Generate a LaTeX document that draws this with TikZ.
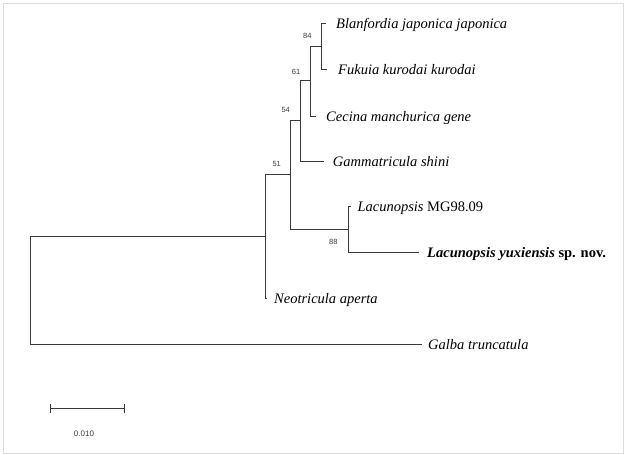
\documentclass[tikz,border=0pt]{standalone}
\usepackage{fontspec}
\setmainfont{Liberation Serif}
\newfontfamily\bsfont{Liberation Sans}
\definecolor{treeline}{HTML}{3A3A3A}
\definecolor{framegray}{HTML}{DCDCD8}
\begin{document}
\begin{tikzpicture}[x=1pt,y=-1pt,
  branch/.style={draw=treeline,line width=1.4pt},
  taxon/.style={anchor=base west,inner sep=0pt,font=\fontsize{14.5}{16}\selectfont\itshape},
  boot/.style={inner sep=0pt,font=\bsfont\fontsize{7.5}{8}\selectfont,text=treeline}]
\useasboundingbox (0,0) rectangle (624,455);
\draw[framegray,line width=1.2pt] (3.5,3.5) rectangle (623.5,453.2);
% internal nodes
\coordinate (root) at (30.5,290.5);
\coordinate (n51) at (265.5,236.5);
\coordinate (n54) at (290.5,174.5);
\coordinate (n61) at (300.5,120.5);
\coordinate (n84) at (310.5,80.5);
\coordinate (nBF) at (321.5,46.5);
\coordinate (n88) at (348.5,229.5);
% leaves
\coordinate (bla) at (325.5,23.5);
\coordinate (fuk) at (326.5,69.5);
\coordinate (cec) at (315.5,116.5);
\coordinate (gam) at (323.5,161.5);
\coordinate (mg) at (351,206.5);
\coordinate (yux) at (418.5,252.5);
\coordinate (neo) at (266,298.5);
\coordinate (gal) at (421.5,344.5);
% branches
\draw[branch] (root) |- (n51);
\draw[branch] (root) |- (gal);
\draw[branch] (n51) |- (n54);
\draw[branch] (n51) |- (neo);
\draw[branch] (n54) |- (n61);
\draw[branch] (n54) |- (n88);
\draw[branch] (n61) |- (n84);
\draw[branch] (n61) |- (gam);
\draw[branch] (n84) |- (nBF);
\draw[branch] (n84) |- (cec);
\draw[branch] (nBF) |- (bla);
\draw[branch] (nBF) |- (fuk);
\draw[branch] (n88) |- (mg);
\draw[branch] (n88) |- (yux);
% taxon labels
\node[taxon] (tbla) at (336,28.7) {Blanfordia japonica japonica};
\node[taxon] (tfuk) at (338,74.7) {Fukuia kurodai kurodai};
\node[taxon] (tcec) at (326,121.7) {Cecina manchurica gene};
\node[taxon] (tgam) at (332.7,166.7) {Gammatricula shini};
\node[taxon] (tmg) at (357.3,211.7) {Lacunopsis \upshape MG98.09};
\node[taxon] (tyux) at (427,257.7) {\bfseries Lacunopsis yuxiensis \upshape sp. nov.};
\node[taxon] (tneo) at (274,303.7) {Neotricula aperta};
\node[taxon] (tgal) at (428,349.7) {Galba truncatula};
% bootstrap values
\node[boot] (b84) at (307.3,36) {84};
\node[boot] (b61) at (296,71.7) {61};
\node[boot] (b54) at (285.7,110) {54};
\node[boot] (b51) at (276.7,164) {51};
\node[boot] (b88) at (333.3,241.7) {88};
% scale bar
\coordinate (sbl) at (50.5,408.5);
\coordinate (sbr) at (124.5,408.5);
\draw[branch] (sbl) -- (sbr);
\draw[branch] ([yshift=-4.3pt]sbl) -- ([yshift=4.3pt]sbl);
\draw[branch] ([yshift=-4.3pt]sbr) -- ([yshift=4.3pt]sbr);
\node[boot,font=\bsfont\fontsize{8}{9}\selectfont] (sbt) at (84,434) {0.010};
\end{tikzpicture}
\end{document}
